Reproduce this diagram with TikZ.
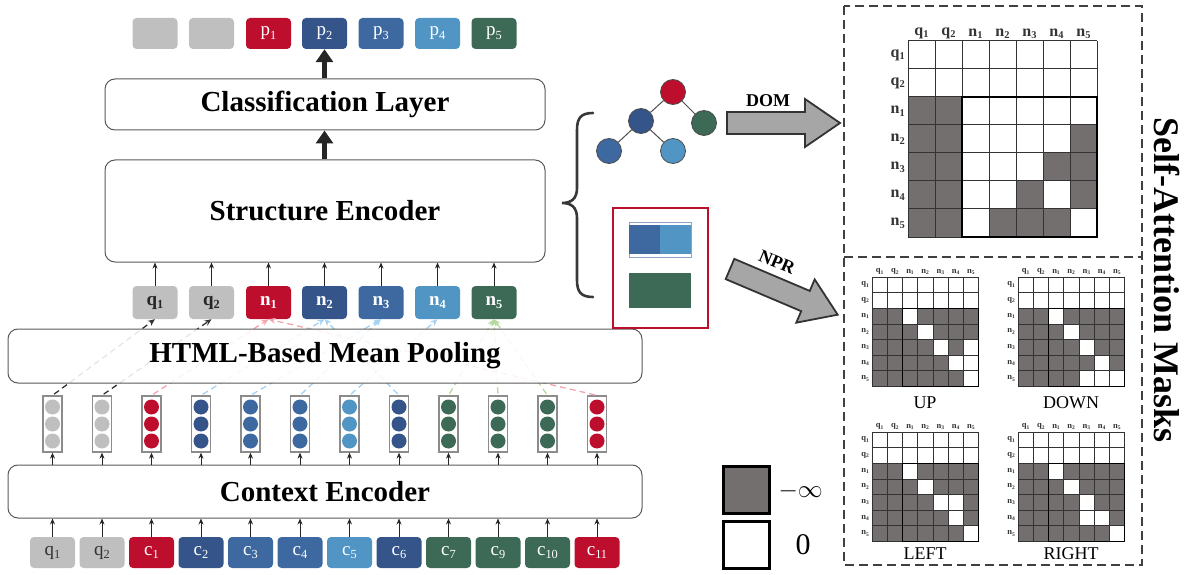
\documentclass[tikz,border=0pt]{standalone}
\usepackage{fontspec}
\setmainfont{Liberation Serif}
\usetikzlibrary{arrows.meta,calc}
\definecolor{cred}{HTML}{BE0E2E}
\definecolor{cdblue}{HTML}{34548A}
\definecolor{cblue}{HTML}{3E69A0}
\definecolor{clblue}{HTML}{5195C5}
\definecolor{cgreen}{HTML}{3D6957}
\definecolor{cgray}{HTML}{BFBFBF}
\definecolor{maskgray}{HTML}{736F6E}
\definecolor{apink}{HTML}{F5A3AE}
\definecolor{ablue}{HTML}{A3D2F2}
\definecolor{agreen}{HTML}{B5D89C}
\definecolor{aq}{HTML}{333333}
\definecolor{edge}{HTML}{5A5A5A}
\definecolor{fatgray}{HTML}{A6A6A6}
\newcommand\ssub[1]{\raisebox{-0.35ex}{\scalebox{0.65}{#1}}}
\newcommand\masklabels{q\ssub{1},q\ssub{2},n\ssub{1},n\ssub{2},n\ssub{3},n\ssub{4},n\ssub{5}}
% #1 prefix, #2 x0, #3 y0, #4 cw, #5 ch, #6 gray cells, #7 font, #8 thin lw, #9 thick lw
\newcommand\maskgrid[9]{%
  \foreach \rr/\cc in {#6}{\fill[maskgray] ({#2+(\cc-1)*#4},{#3+(\rr-1)*#5}) rectangle ++(#4,#5);}
  \foreach \k in {0,...,7}{%
    \draw[line width=#8, black!80] ({#2+\k*#4},#3) -- ++(0,{7*#5});
    \draw[line width=#8, black!80] (#2,{#3+\k*#5}) -- ++({7*#4},0);
  }
  \draw[line width=#9] ({#2+2*#4},{#3+2*#5}) rectangle ({#2+7*#4},{#3+7*#5});
  \foreach \lab [count=\k] in \masklabels {%
    \node[font=#7, anchor=south, inner sep=1pt, text=black!80] (#1c\k) at ({#2+(\k-0.5)*#4},{#3-1}) {\lab};
    \node[font=#7, anchor=east, inner sep=1pt, text=black!80] (#1r\k) at ({#2-2},{#3+(\k-0.5)*#5}) {\lab};
  }
}
\tikzset{
  bigbox/.style={draw=edge, line width=1pt, rounded corners=10pt, fill=white, inner sep=0pt,
    font=\fontsize{29}{33}\selectfont\bfseries},
  tok/.style={rounded corners=4pt, minimum width=45pt, minimum height=31pt, inner sep=0pt,
    text=white, font=\fontsize{19}{21}\selectfont},
  midtok/.style={tok, minimum height=33pt, font=\fontsize{19}{21}\selectfont\bfseries},
  stackbox/.style={draw=black!45, line width=1.3pt, fill=white, minimum width=19pt,
    minimum height=56pt, inner sep=0pt},
  thinarrow/.style={-{Stealth[length=6pt,width=5pt]}, line width=0.9pt, draw=black!85},
  thickarrow/.style={-{Triangle[length=13pt,width=17pt]}, line width=5pt, draw=black!85},
  poolarrow/.style={dash pattern=on 6pt off 4pt, line width=1.3pt, shorten <=2pt,
    -{Stealth[length=7pt,width=6pt]}},
  treenode/.style={circle, draw=black!70, line width=0.8pt, minimum size=25pt, inner sep=0pt},
  fatarrow/.style={fill=fatgray, draw=black!80, line width=1.8pt, line join=miter},
  masktitle/.style={font=\fontsize{18}{20}\selectfont},
  legendsq/.style={draw=black, line width=3pt, minimum width=46pt, minimum height=47pt, inner sep=0pt},
}
\begin{document}
\begin{tikzpicture}[x=1pt,y=-1pt]
\useasboundingbox (0,0) rectangle (1195,575);

% ---------- top output tokens
\foreach \x/\c/\l [count=\i] in {155/cgray/{},211.5/cgray/{},268.5/cred/p\ssub{1},324.5/cdblue/p\ssub{2},381/cblue/p\ssub{3},437.5/clblue/p\ssub{4},494/cgreen/p\ssub{5}}
  \node[tok, fill=\c] (t\i) at (\x,33.5) {\l};

% ---------- big boxes
\node[bigbox, minimum width=440pt, minimum height=51pt] (cls) at (325,104.5) {Classification Layer};
\node[bigbox, minimum width=440pt, minimum height=102pt] (str) at (325,211) {Structure Encoder};

% ---------- middle tokens
\foreach \x/\c/\tc/\l [count=\i] in {155/cgray/black!85/q\ssub{1},211.5/cgray/black!85/q\ssub{2},268.5/cred/white/n\ssub{1},324.5/cdblue/white/n\ssub{2},381/cblue/white/n\ssub{3},437.5/clblue/white/n\ssub{4},494/cgreen/white/n\ssub{5}}
  \node[midtok, fill=\c, text=\tc] (m\i) at (\x,302.5) {\l};

% ---------- vector stacks
\foreach \c [count=\i] in {cgray,cgray,cred,cdblue,cblue,cblue,clblue,cdblue,cgreen,cgreen,cgreen,cred}{
  \node[stackbox] (s\i) at ({52.5+49.5*(\i-1)},424) {};
  \foreach \dy in {-17,0,17}
    \fill[\c] ($(s\i.center)+(0,\dy)$) circle[radius=7.5pt];
}

% ---------- bottom input tokens
\foreach \c/\tc/\l [count=\i] in {cgray/black!80/q\ssub{1},cgray/black!80/q\ssub{2},cred/white/c\ssub{1},cdblue/white/c\ssub{2},cblue/white/c\ssub{3},cblue/white/c\ssub{4},clblue/white/c\ssub{5},cdblue/white/c\ssub{6},cgreen/white/c\ssub{7},cgreen/white/c\ssub{9},cgreen/white/c\ssub{10},cred/white/c\ssub{11}}
  \node[tok, fill=\c, text=\tc] (b\i) at ({52.5+49.5*(\i-1)},552.5) {\l};

% ---------- pooling dashed connectors
\draw[poolarrow, aq] (s1.north) -- (m1.south);
\draw[poolarrow, aq] (s2.north) -- (m2.south);
\draw[poolarrow, apink] (s3.north) -- (m3.south);
\draw[poolarrow, apink] (s12.north) -- (m3.south);
\draw[poolarrow, ablue] (s4.north) -- (m4.south);
\draw[poolarrow, ablue] (s8.north) -- (m4.south);
\draw[poolarrow, ablue] (s5.north) -- (m5.south);
\draw[poolarrow, ablue] (s6.north) -- (m5.south);
\draw[poolarrow, ablue] (s7.north) -- (m6.south);
\draw[poolarrow, agreen] (s9.north) -- (m7.south);
\draw[poolarrow, agreen] (s10.north) -- (m7.south);
\draw[poolarrow, agreen] (s11.north) -- (m7.south);

\node[bigbox, minimum width=634pt, minimum height=54pt, fill opacity=0.88, text opacity=1] (pool) at (325,356) {HTML-Based Mean Pooling};
\node[bigbox, minimum width=634pt, minimum height=53pt] (ctx) at (325,491.5) {Context Encoder};

% ---------- arrows
\foreach \i in {1,...,12}{
  \draw[thinarrow] (b\i.north) -- (b\i.north |- ctx.south);
  \draw[thinarrow] (s\i.south |- ctx.north) -- (s\i.south);
}
\foreach \i in {1,...,7}
  \draw[thinarrow] (m\i.north) -- (m\i.north |- str.south);
\draw[thickarrow] (str.north -| t4.south) -- (cls.south -| t4.south);
\draw[thickarrow] (cls.north -| t4.south) -- (t4.south);

% ---------- brace
\draw[line width=2.6pt, black!78, line cap=round]
  (593,113) .. controls (581,113) and (577,118) .. (577,130) -- (577,188)
  .. controls (577,199) and (571,203) .. (562,203)
  .. controls (571,203) and (577,207) .. (577,218) -- (577,280)
  .. controls (577,292) and (581,297) .. (593,297);

% ---------- DOM tree
\node[treenode, fill=cred] (r) at (673,92) {};
\node[treenode, fill=cdblue] (tl) at (641,121) {};
\node[treenode, fill=cgreen] (tr) at (704,123) {};
\node[treenode, fill=cblue] (bl) at (609,151) {};
\node[treenode, fill=clblue] (br) at (673,151) {};
\draw[black!70, line width=1pt] (r) -- (tl) (r) -- (tr) (tl) -- (bl) (tl) -- (br);

% ---------- NPR box
\node[draw=cred, line width=2pt, minimum width=95pt, minimum height=120pt, inner sep=0pt] (nprbox) at (660.5,268) {};
\draw[cblue!60!white, line width=0.8pt] (629,222) rectangle (691,257);
\fill[cblue] (629.4,225) rectangle (660,254);
\fill[clblue] (660,225) rectangle (690.6,254);
\fill[cgreen] (629,273) rectangle (691,308);

% ---------- fat arrows
\draw[fatarrow] (727,112) -- (805,112) -- (805,99) -- (840,123) -- (805,147) -- (805,134) -- (727,134) -- cycle;
\node[font=\fontsize{18}{20}\selectfont\bfseries] (domlab) at (768,101) {DOM};
\begin{scope}[shift={(730,269)}, rotate=-23]
  \draw[fatarrow] (0,-11) -- (82,-11) -- (82,-23.5) -- (117,0) -- (82,23.5) -- (82,11) -- (0,11) -- cycle;
\end{scope}
\node[font=\fontsize{18}{20}\selectfont\bfseries, rotate=-23, inner sep=0pt] (nprlab) at (777,262) {NPR};

% ---------- self-attention mask panel
\draw[black!75, line width=2.3pt, dash pattern=on 9pt off 5pt] (844,6) rectangle (1142,565);
\draw[black!75, line width=2.3pt, dash pattern=on 9pt off 5pt] (844,257) -- (1142,257);

\maskgrid{dom}{908}{41}{27}{28}{3/1,3/2,4/1,4/2,4/7,5/1,5/2,5/6,5/7,6/1,6/2,6/5,6/7,7/1,7/2,7/4,7/5,7/6}{\fontsize{16}{18}\selectfont\bfseries}{1pt}{2.2pt}

\maskgrid{up}{872}{277}{15.2}{15.6}{3/1,3/2,3/4,3/5,3/6,3/7,4/1,4/2,4/3,4/5,4/6,4/7,5/1,5/2,5/3,5/4,5/6,6/1,6/2,6/3,6/4,6/5,7/1,7/2,7/3,7/4,7/5,7/6}{\fontsize{8.5}{9}\selectfont\bfseries}{0.6pt}{1.3pt}
\maskgrid{down}{1018}{277}{15.2}{15.6}{3/1,3/2,3/4,3/5,3/6,3/7,4/1,4/2,4/3,4/5,4/6,4/7,5/1,5/2,5/3,5/4,5/6,5/7,6/1,6/2,6/3,6/4,6/5,6/7,7/1,7/2,7/3,7/4}{\fontsize{8.5}{9}\selectfont\bfseries}{0.6pt}{1.3pt}
\maskgrid{left}{872}{432}{15.2}{15.6}{3/1,3/2,3/4,3/5,3/6,3/7,4/1,4/2,4/3,4/5,4/6,4/7,5/1,5/2,5/3,5/4,5/7,6/1,6/2,6/3,6/4,6/5,6/7,7/1,7/2,7/3,7/4,7/5,7/6}{\fontsize{8.5}{9}\selectfont\bfseries}{0.6pt}{1.3pt}
\maskgrid{right}{1018}{432}{15.2}{15.6}{3/1,3/2,3/4,3/5,3/6,3/7,4/1,4/2,4/3,4/5,4/6,4/7,5/1,5/2,5/3,5/4,5/6,5/7,6/1,6/2,6/3,6/4,6/7,7/1,7/2,7/3,7/4,7/5,7/6}{\fontsize{8.5}{9}\selectfont\bfseries}{0.6pt}{1.3pt}

\node[masktitle] (uplab) at (925,403) {UP};
\node[masktitle] (downlab) at (1071,403) {DOWN};
\node[masktitle] (leftlab) at (925,554) {LEFT};
\node[masktitle] (rightlab) at (1071,554) {RIGHT};

\node[rotate=-90, font=\fontsize{36}{40}\selectfont\bfseries] (title) at (1167,280) {Self-Attention Masks};

% ---------- legend
\node[legendsq, fill=maskgray] (leg1) at (746,489.5) {};
\node[legendsq, fill=white] (leg0) at (746,544.5) {};
\node[anchor=west, font=\fontsize{30}{34}\selectfont] (leginf) at (775,491) {$-\infty$};
\node[font=\fontsize{30}{34}\selectfont] (legzero) at (803,545) {0};
\end{tikzpicture}
\end{document}
